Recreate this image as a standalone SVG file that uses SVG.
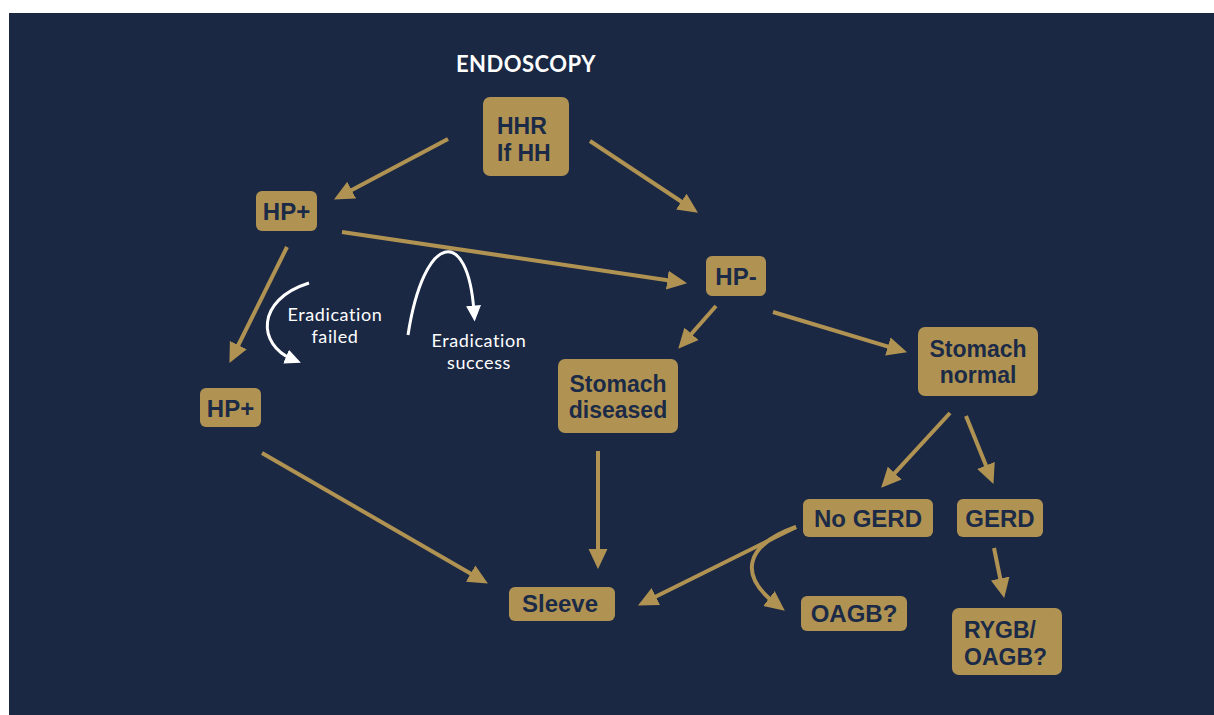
<svg xmlns="http://www.w3.org/2000/svg" width="1214" height="715" viewBox="0 0 1214 715">
<style>
.box{fill:#b09352}
.nt{font-family:"Liberation Sans",Arial,sans-serif;font-weight:700;font-size:24px;fill:#1b2a47}
.two{font-size:23px}
.c{text-anchor:middle}
.con{stroke:#b09352;stroke-width:4;fill:none;marker-end:url(#ah)}
.wc{stroke:#ffffff;stroke-width:3;fill:none;marker-end:url(#wh)}
.wt{font-family:Lato,"Liberation Sans",sans-serif;font-weight:400;font-size:18px;letter-spacing:0.6px;fill:#ffffff;text-anchor:middle}
</style>
<defs>
<marker id="ah" markerUnits="userSpaceOnUse" markerWidth="20" markerHeight="20" refX="8" refY="8.5" orient="auto" viewBox="0 0 18 17"><path d="M0,0 L18,8.5 L0,17 z" fill="#b09352"/></marker>
<marker id="wh" markerUnits="userSpaceOnUse" markerWidth="16" markerHeight="16" refX="6" refY="7" orient="auto" viewBox="0 0 15 14"><path d="M0,0 L15,7 L0,14 z" fill="#ffffff"/></marker>
</defs>
<rect x="0" y="0" width="1214" height="715" fill="#ffffff"/>
<rect x="9" y="13" width="1205" height="702" fill="#1a2844"/>
<text x="526" y="72" font-family="Lato,'Liberation Sans',sans-serif" font-weight="700" font-size="22" letter-spacing="0.5" fill="#ffffff" text-anchor="middle">ENDOSCOPY</text>
<g id="connectors">
<line class="con" x1="448" y1="139" x2="343.8" y2="194.3"/>
<line class="con" x1="590" y1="141" x2="688.7" y2="206.5"/>
<line class="con" x1="342" y1="232" x2="676.1" y2="281.5"/>
<line class="con" x1="287" y1="247" x2="234.4" y2="353"/>
<line class="con" x1="716" y1="306" x2="685.6" y2="340.5"/>
<line class="con" x1="773" y1="312" x2="896.4" y2="349.1"/>
<line class="con" x1="950" y1="413" x2="888.7" y2="479.6"/>
<line class="con" x1="966" y1="416" x2="989.3" y2="473.7"/>
<line class="con" x1="994" y1="548" x2="1002" y2="587.2"/>
<line class="con" x1="598" y1="451" x2="598" y2="558"/>
<line class="con" x1="262" y1="453" x2="478.3" y2="578"/>
<line class="con" x1="796" y1="527" x2="647.9" y2="600.5"/>
<path class="con" d="M796 527 C745 545 738 575 776 604"/>
<path class="wc" d="M309 283 C255 300 258 345 292 359"/>
<path class="wc" d="M408 335 C424 232 468 225 474 312"/>
</g>
<g id="n-hhr"><rect class="box" x="483" y="97" width="86" height="79" rx="7"/><text class="nt two" x="497" y="134">HHR<tspan x="497" dy="27">If HH</tspan></text></g>
<g id="n-hp1"><rect class="box" x="256" y="191" width="61" height="40" rx="6"/><text class="nt c" x="286.5" y="220">HP+</text></g>
<g id="n-hp2"><rect class="box" x="200" y="388" width="61" height="39" rx="6"/><text class="nt c" x="230.5" y="417">HP+</text></g>
<g id="n-hpm"><rect class="box" x="706" y="256" width="60" height="40" rx="6"/><text class="nt c" x="736" y="285">HP-</text></g>
<g id="n-sd"><rect class="box" x="558" y="359" width="120" height="74" rx="7"/><text class="nt two c" x="618" y="392">Stomach<tspan x="618" dy="26">diseased</tspan></text></g>
<g id="n-sn"><rect class="box" x="918" y="327" width="120" height="69" rx="7"/><text class="nt two c" x="978" y="357">Stomach<tspan x="978" dy="26">normal</tspan></text></g>
<g id="n-sleeve"><rect class="box" x="509" y="587" width="106" height="34" rx="6"/><text class="nt c" x="560" y="612">Sleeve</text></g>
<g id="n-nogerd"><rect class="box" x="803" y="499" width="130" height="38" rx="6"/><text class="nt c" x="868" y="527">No GERD</text></g>
<g id="n-gerd"><rect class="box" x="957" y="499" width="86" height="38" rx="6"/><text class="nt c" x="1000" y="527">GERD</text></g>
<g id="n-oagb"><rect class="box" x="801" y="596" width="106" height="35" rx="6"/><text class="nt c" x="854" y="622">OAGB?</text></g>
<g id="n-rygb"><rect class="box" x="952" y="608" width="110" height="67" rx="7"/><text class="nt two" x="964" y="638">RYGB/<tspan x="964" dy="27">OAGB?</tspan></text></g>
<g id="labels">
<text class="wt" x="335" y="321">Eradication<tspan x="335" dy="22">failed</tspan></text>
<text class="wt" x="479" y="347">Eradication<tspan x="479" dy="22">success</tspan></text>
</g>
</svg>
